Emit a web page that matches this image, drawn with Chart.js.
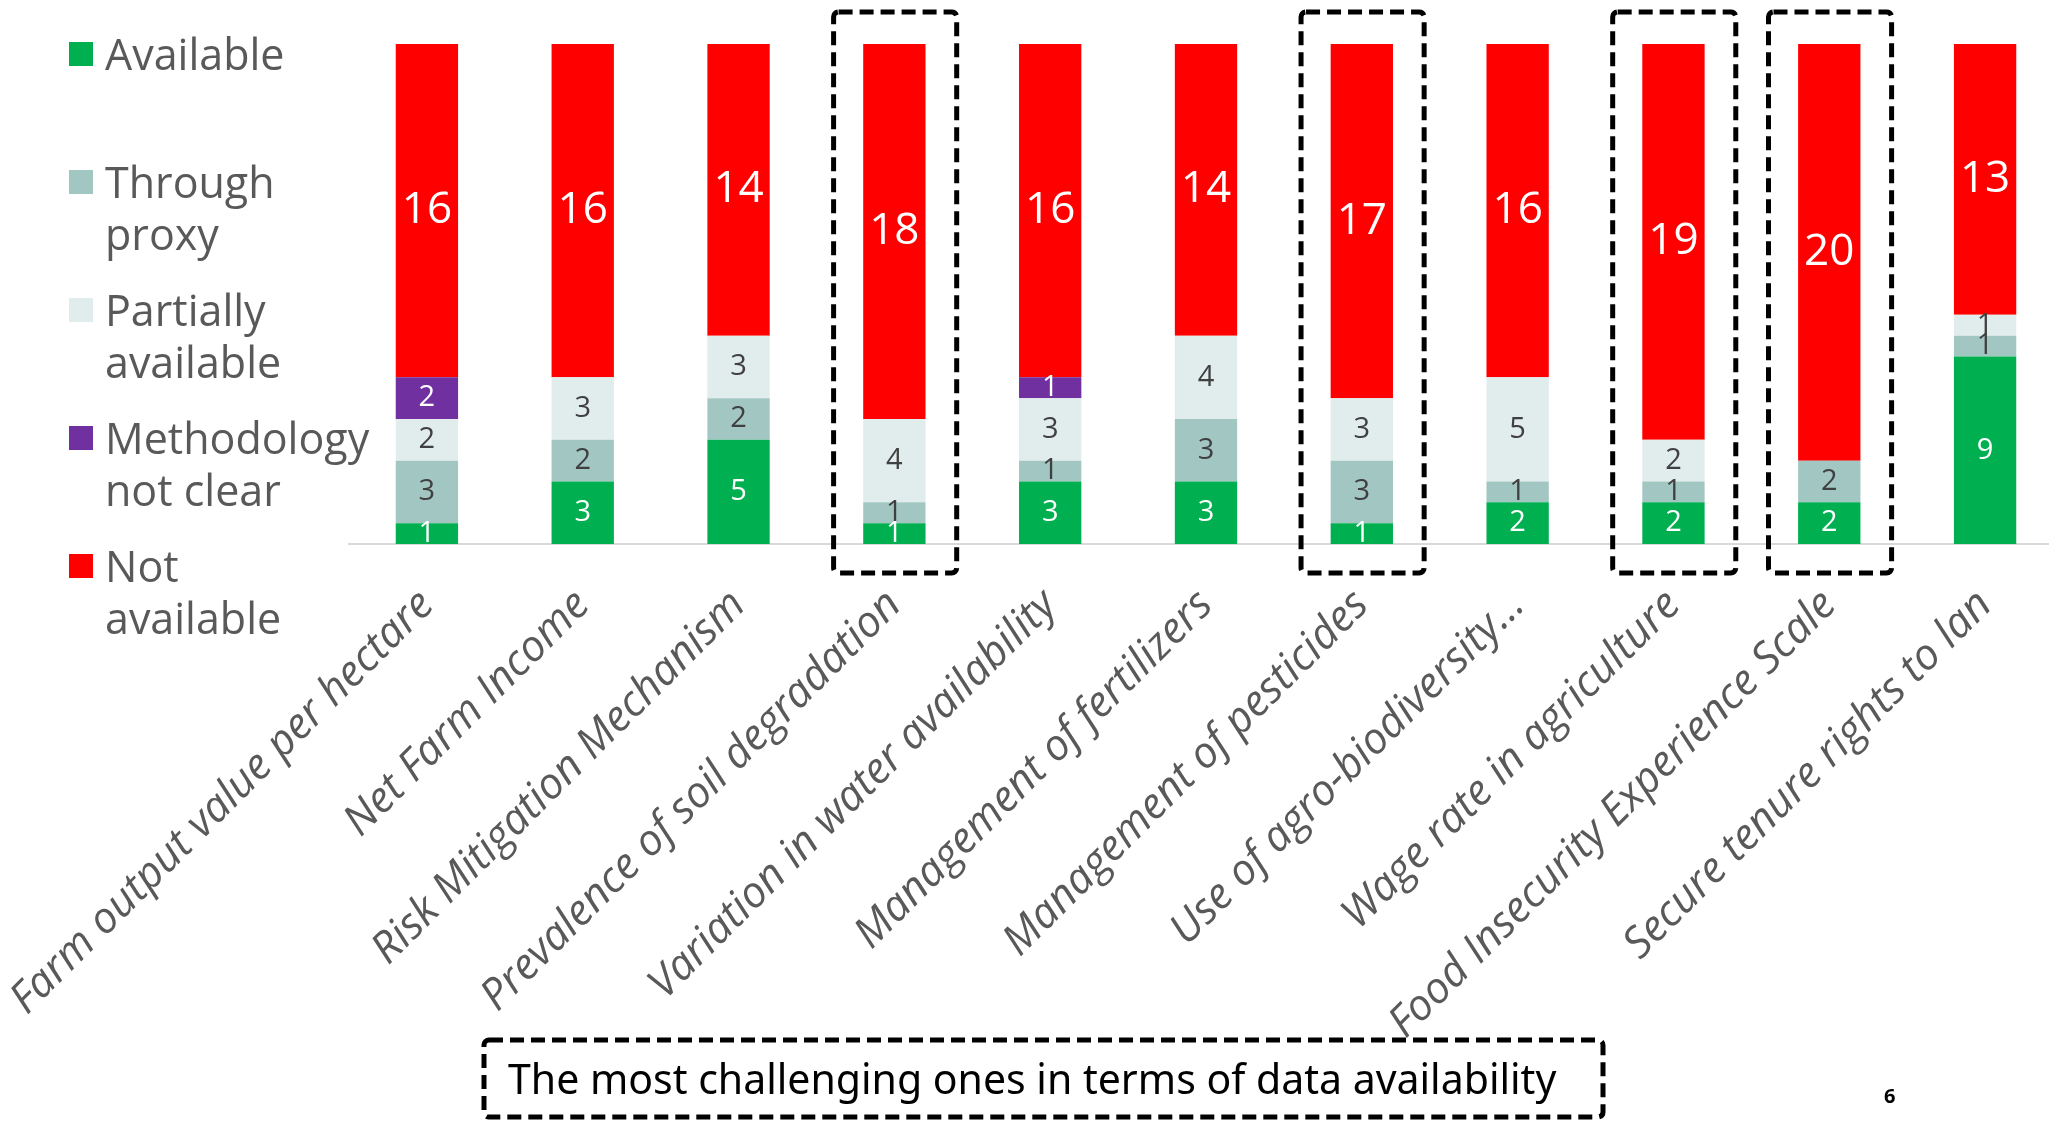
<!DOCTYPE html>
<html>
<head>
<meta charset="utf-8">
<script src="https://cdn.jsdelivr.net/npm/chart.js@4.4.1/dist/chart.umd.min.js"></script>
<style>
  html, body { margin: 0; padding: 0; background: #fff; overflow: hidden; }
  #wrap { position: relative; width: 2049px; height: 1121px; overflow: hidden; }
  #box { position: absolute; left: 0; top: 0; width: 2070px; height: 1121px; }
  #legend { position: absolute; left: 69px; top: 0; font-family: "Open Sans", sans-serif; font-size: 43px; color: #595959; }
  .item { position: absolute; left: 0; display: flex; white-space: nowrap; line-height: 52px; }
  .swatch { width: 24px; height: 24px; margin-top: 14px; margin-right: 12px; flex: none; }
  #caption { position: absolute; left: 508px; top: 1050px; font-family: "Noto Sans", sans-serif; font-size: 41px; color: #000; white-space: nowrap; }
  #page { position: absolute; left: 1884px; top: 1082px; font-family: "Noto Sans", sans-serif; font-weight: bold; font-size: 20px; color: #000; }
</style>
</head>
<body>
<div id="wrap">
  <div id="box"><canvas id="availabilityChart"></canvas></div>
  <div id="legend"></div>
  <div id="caption">The most challenging ones in terms of data availability</div>
  <div id="page">6</div>
</div>
<script>
const indicators = [
  "Farm output value per hectare",
  "Net Farm Income",
  "Risk Mitigation Mechanism",
  "Prevalence of soil degradation",
  "Variation in water availability",
  "Management of fertilizers",
  "Management of pesticides",
  "Use of agro-biodiversity…",
  "Wage rate in agriculture",
  "Food Insecurity Experience Scale",
  "Secure tenure rights to lan"
];

// legend text, one entry per line
const seriesLabels = [
  ["Available"],
  ["Through", "proxy"],
  ["Partially", "available"],
  ["Methodology", "not clear"],
  ["Not", "available"]
];

const available   = [1, 3, 5, 1, 3, 3, 1, 2, 2, 2, 9];
const throughProxy = [3, 2, 2, 1, 1, 3, 3, 1, 1, 2, 1];
const partially   = [2, 3, 3, 4, 3, 4, 3, 5, 2, 0, 1];
const methodology = [2, 0, 0, 0, 1, 0, 0, 0, 0, 0, 0];
const notAvailable = [16, 16, 14, 18, 16, 14, 17, 16, 19, 20, 13];

// indicators boxed as most challenging
const highlighted = [3, 6, 8, 9];

const colors = ["#00B050", "#A2C7C3", "#E0EDEC", "#7030A0", "#FF0000"];
const labelColors = ["#ffffff", "#404040", "#404040", "#ffffff", "#ffffff"];
const labelSizes = [29, 29, 29, 29, 44];

const seriesData = [available, throughProxy, partially, methodology, notAvailable];

// HTML legend
const legendEl = document.getElementById("legend");
seriesLabels.forEach((lines, i) => {
  const item = document.createElement("div");
  item.className = "item";
  item.style.top = (28 + i * 128) + "px";
  const sw = document.createElement("div");
  sw.className = "swatch";
  sw.style.background = colors[i];
  const txt = document.createElement("div");
  txt.innerHTML = lines.join("<br>");
  item.appendChild(sw);
  item.appendChild(txt);
  legendEl.appendChild(item);
});

const segmentLabels = {
  id: "segmentLabels",
  afterDatasetsDraw(chart) {
    const ctx = chart.ctx;
    chart.data.datasets.forEach((ds, i) => {
      const meta = chart.getDatasetMeta(i);
      meta.data.forEach((bar, j) => {
        const v = ds.data[j];
        if (!v) return;
        ctx.save();
        ctx.font = `${ds.labelSize}px "Open Sans"`;
        ctx.fillStyle = ds.labelColor;
        ctx.textAlign = "center";
        ctx.textBaseline = "middle";
        ctx.fillText(String(v), bar.x, (bar.y + bar.base) / 2);
        ctx.restore();
      });
    });
  }
};

function dashedRect(ctx, x, y, w, h) {
  ctx.save();
  ctx.strokeStyle = "#000";
  ctx.lineWidth = 5;
  ctx.setLineDash([14, 7]);
  ctx.beginPath();
  ctx.roundRect(x, y, w, h, 5);
  ctx.stroke();
  ctx.restore();
}

const boxes = {
  id: "boxes",
  afterDraw(chart) {
    const ctx = chart.ctx;
    const xs = chart.scales.x;
    const step = xs.width / indicators.length;
    const area = chart.chartArea;
    highlighted.forEach((i) => {
      const cx = xs.getPixelForValue(i);
      dashedRect(ctx, cx - 0.39 * step, area.top - 32, 0.79 * step, area.bottom - area.top + 61);
    });
    // caption frame
    dashedRect(ctx, 484, 1040, 1119, 77);
  }
};

const ctx = document.getElementById("availabilityChart").getContext("2d");
new Chart(ctx, {
  type: "bar",
  data: {
    labels: indicators,
    datasets: seriesData.map((d, i) => ({
      label: seriesLabels[i].join(" "),
      data: d,
      backgroundColor: colors[i],
      labelColor: labelColors[i],
      labelSize: labelSizes[i],
      barPercentage: 0.4,
      categoryPercentage: 1.0
    }))
  },
  options: {
    responsive: true,
    maintainAspectRatio: false,
    animation: false,
    layout: { padding: { left: 349, right: 7, top: 44, bottom: 0 } },
    scales: {
      x: {
        stacked: true,
        grid: { display: false, drawTicks: false },
        border: { display: true, color: "#D9D9D9", width: 2 },
        ticks: {
          autoSkip: false,
          minRotation: 45,
          maxRotation: 45,
          padding: 36,
          color: "#595959",
          font: { family: "Open Sans", style: "italic", size: 43 }
        },
        afterFit: (scale) => {
          scale.paddingLeft = 0;
          scale.paddingRight = 0;
          scale.height = 1121 - 544;
        }
      },
      y: {
        stacked: true,
        display: false,
        min: 0,
        max: 24
      }
    },
    plugins: {
      legend: { display: false },
      tooltip: { enabled: false }
    }
  },
  plugins: [segmentLabels, boxes]
});
</script>
</body>
</html>
